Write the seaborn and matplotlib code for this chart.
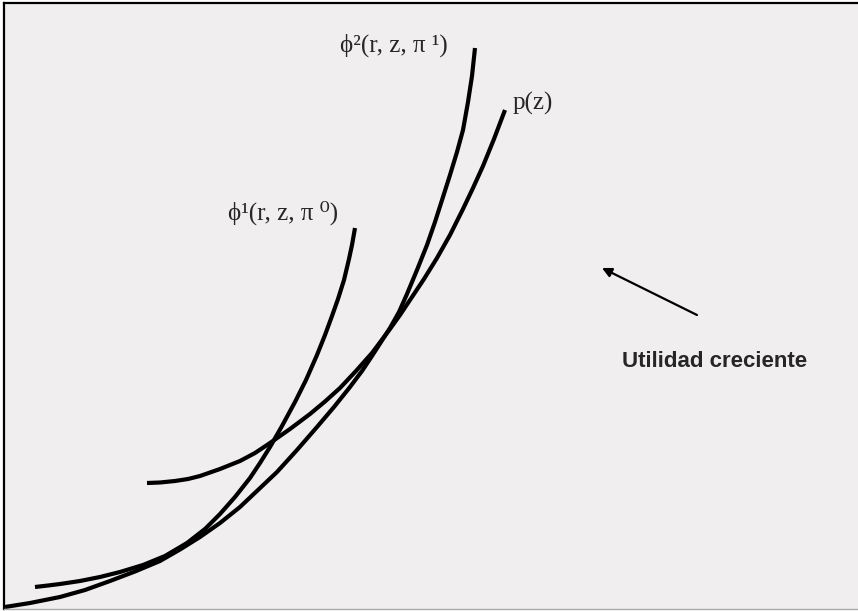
import pandas as pd
import numpy as np
import seaborn as sns
import matplotlib.pyplot as plt

# values (z on x, value on y)
z_phi1 = [35, 48, 60, 80, 100, 120, 143, 165, 187, 205, 220, 235, 250, 260, 270, 282, 295,
          306, 317, 325, 332, 338, 344, 349, 352, 355]
v_phi1 = [24, 25.5, 27, 30, 34, 39, 46, 55, 68, 82, 97, 114, 133, 148, 164, 185, 209,
          231, 256, 276, 295, 312, 331, 352, 366, 383]

z_phi2 = [5, 30, 60, 85, 110, 135, 160, 180, 200, 220, 240, 258, 277, 297, 317, 334, 350,
          362, 372, 381, 390, 399, 407, 417, 427, 435, 443, 450, 457, 463, 468, 472, 475]
v_phi2 = [4, 8, 14, 21, 30, 39.5, 50, 61.5, 74, 88, 104, 121, 139, 161, 184, 204, 224,
          240, 255, 269, 283, 299, 317, 341, 366, 389, 414, 436, 459, 481, 509, 535, 563]

z_p = [147, 160, 175, 188, 200, 220, 240, 255, 270, 290, 310, 325, 340, 356, 372, 381, 390,
       400, 410, 424, 437, 450, 463, 473, 483, 494, 505]
v_p = [128, 128.5, 130, 132, 135, 142, 150, 158, 168, 182, 197, 209.5, 223, 240, 258, 270, 282,
       296, 311, 332, 353, 376, 402, 423, 445, 472, 501]

labels = ["ϕ¹(r, z, π ⁰)", "ϕ²(r, z, π ¹)", "p(z)"]

df = pd.concat([
    pd.DataFrame({"z": z_phi1, "v": v_phi1, "curva": labels[0]}),
    pd.DataFrame({"z": z_phi2, "v": v_phi2, "curva": labels[1]}),
    pd.DataFrame({"z": z_p, "v": v_p, "curva": labels[2]}),
])

sns.set_style("white")

fig = plt.figure(figsize=(8.58, 6.11), dpi=100)
ax = fig.add_axes([4 / 858, 2 / 611, 854 / 858, 606 / 611])
ax.set_facecolor("#f0eeee")

sns.lineplot(data=df, x="z", y="v", units="curva", estimator=None, sort=False,
             color="black", linewidth=3.0, solid_capstyle="butt", solid_joinstyle="round",
             ax=ax, legend=False)

ax.set_xlim(4, 858)
ax.set_ylim(2, 608)
ax.set_xticks([])
ax.set_yticks([])
ax.set_xlabel("")
ax.set_ylabel("")

for side in ["left", "top"]:
    ax.spines[side].set_color("black")
    ax.spines[side].set_linewidth(1.6)
ax.spines["bottom"].set_color("#aaaaaa")
ax.spines["bottom"].set_linewidth(1.0)
ax.spines["right"].set_visible(False)

serif = ["Liberation Serif", "DejaVu Serif"]
ax.text(228, 398, labels[0], family=serif, fontsize=18, va="center", ha="left")
ax.text(340, 566, labels[1], family=serif, fontsize=18, va="center", ha="left")
ax.text(513, 508, labels[2], family=serif, fontsize=18, va="center", ha="left")

ax.annotate("", xy=(602, 343), xytext=(697, 296),
            arrowprops=dict(arrowstyle="-|>", color="black", lw=1.6,
                            mutation_scale=14, shrinkA=0, shrinkB=0))
ax.text(622, 249, "Utilidad creciente", family=["Liberation Sans", "DejaVu Sans"],
        fontsize=16, fontweight="bold", va="center", ha="left")

plt.savefig("out.png", dpi=100)
